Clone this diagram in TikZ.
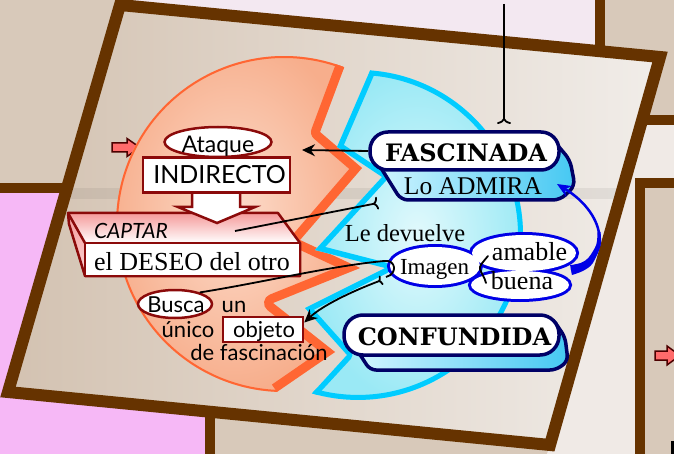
\documentclass[tikz,border=0pt]{standalone}
\usepackage{fontspec}
\setmainfont{Liberation Serif}
\newfontfamily\gill{Lato}
\newfontfamily\friz{DejaVu Serif}
\usetikzlibrary{arrows.meta,calc,shapes.geometric}
\definecolor{brn}{HTML}{663300}
\definecolor{dred}{HTML}{8B0A0A}
\definecolor{navy}{HTML}{000066}
\definecolor{oband}{HTML}{FF6633}
\definecolor{cband}{HTML}{00CCFF}
\definecolor{bline}{HTML}{0000E6}
\definecolor{pinkbg}{HTML}{F6B8F6}
\definecolor{beige}{HTML}{D8C9BA}
\definecolor{lav}{HTML}{F3E8F1}
\definecolor{lightr}{HTML}{F0EAE6}
\definecolor{quadL}{HTML}{D3C2B1}
\definecolor{quadR}{HTML}{F1EDE9}
\definecolor{peachO}{HTML}{F7AE8C}
\definecolor{peachI}{HTML}{FCDCCB}
\definecolor{cyanO}{HTML}{9AE9F5}
\definecolor{cyanI}{HTML}{E2F9FC}
\definecolor{pinkA}{HTML}{FF6B6B}
\definecolor{boxL}{HTML}{D2F5FF}
\definecolor{boxR}{HTML}{45C8F2}
\definecolor{captop}{HTML}{F59A9A}
\tikzset{
  brline/.style={draw=brn, line width=10pt},
  redborder/.style={draw=dred, line width=2.5pt, fill=white, inner sep=0pt},
  navyborder/.style={draw=navy, line width=3.5pt},
  conn/.style={draw=black, line width=1.8pt},
  sanstxt/.style={anchor=base, inner sep=0pt, font=\gill\fontsize{22}{24}\selectfont},
  seriftxt/.style={anchor=base, inner sep=0pt, font=\fontsize{26}{28}\selectfont},
  boldtxt/.style={anchor=base, inner sep=0pt, font=\friz\bfseries\fontsize{24}{26}\selectfont},
  cloudline/.style={draw=bline, line width=6pt},
  pinkarrow/.style={fill=pinkA, draw=black!70!red, line width=1.5pt, line join=miter}
}
\begin{document}
\begin{tikzpicture}[x=1pt,y=-1pt]
\useasboundingbox (0,0) rectangle (674,454);
% background regions
\fill[beige] (0,0) rectangle (674,454);
\fill[lav] (120,0) -- (600,0) -- (600,51) -- (120,5) -- cycle;
\fill[lightr] (642,120) -- (674,120) -- (674,183) -- (640,183) -- (640,454) -- (547,454) -- cycle;
\fill[pinkbg] (0,188) -- (67,188) -- (8,392) -- (210,412) -- (210,454) -- (0,454) -- cycle;
% main panel
\shade[left color=quadL, right color=quadR] (120,5) -- (660,57) -- (550,445) -- (8,392) -- cycle;
\begin{scope}
\clip (120,5) -- (660,57) -- (550,445) -- (8,392) -- cycle;
\fill[black, opacity=0.06] (0,188) rectangle (674,199);
\end{scope}
\draw[brline] (0,188) -- (67,188);
\draw[brline] (600,0) -- (600,51);
\draw[brline] (210,412) -- (210,454);
\draw[brline] (642,120) -- (674,120);
\draw[brline, line join=miter] (640,454) -- (640,183) -- (674,183);
\draw[draw=brn, line width=12pt, line join=miter] (120,5) -- (660,57) -- (550,445) -- (8,392) -- cycle;
% small pink arrows
\draw[pinkarrow] (112,143) -- (127,143) -- (127,138.5) -- (140,147.5) -- (127,156.5) -- (127,152) -- (112,152) -- cycle;
\draw[pinkarrow] (655,351) -- (667,351) -- (667,346) -- (680,355.5) -- (667,365) -- (667,360) -- (655,360) -- cycle;
\fill[black] (671,441) rectangle (674,454);
% orange sector
\shade[inner color=peachI, outer color=peachO] (344.2,67.2) arc[start angle=-69, end angle=-267.6, radius=168] -- (335,352) -- (273,303) -- (360,268) -- (300,240) -- (362,168) -- (320,132) -- cycle;
\begin{scope}
\clip (344.2,67.2) arc[start angle=-69, end angle=-267.6, radius=168] -- (335,352) -- (273,303) -- (360,268) -- (300,240) -- (362,168) -- (320,132) -- cycle;
\draw[oband, line width=18pt, line join=round] (344.2,67.2) -- (320,132) -- (362,168) -- (300,240) -- (360,268) -- (273,303) -- (335,352) -- (277,392);
\draw[oband, line width=4pt] (344.2,67.2) arc[start angle=-69, end angle=-267.6, radius=168];
\end{scope}
% blue sector
\shade[inner color=cyanI, outer color=cyanO] (370.1,70.4) arc[start angle=-85.8, end angle=106.2, radius=165] -- (347,355) -- (305,308) -- (385,268) -- (315,250) -- (382,177) -- (337,147) -- cycle;
\begin{scope}
\clip (370.1,70.4) arc[start angle=-85.8, end angle=106.2, radius=165] -- (347,355) -- (305,308) -- (385,268) -- (315,250) -- (382,177) -- (337,147) -- cycle;
\draw[cband, line width=11pt, line join=round] (312,393) -- (347,355) -- (305,308) -- (385,268) -- (315,250) -- (382,177) -- (337,147) -- (370.1,70.4);
\draw[cband, line width=10pt] (370.1,70.4) arc[start angle=-85.8, end angle=106.2, radius=165];
\end{scope}
% CAPTAR box
\shade[top color=captop, bottom color=white] (68,213) -- (278,213) -- (300,243) -- (85,243) -- cycle;
\shade[top color=captop, bottom color=white!60!captop] (68,213) -- (85,243) -- (85,276) -- (69,224) -- cycle;
\draw[dred, line width=2.5pt, line join=round] (68,213) -- (278,213) -- (300,243) -- (300,276) -- (85,276) -- (69,224) -- cycle;
\draw[dred, line width=2.5pt] (68,213) -- (85,243);
\node[redborder, minimum width=215pt, minimum height=33pt] (deseo) at (192.5,259.5) {};
% block arrow
\draw[redborder, line join=miter] (192,188) -- (192,207) -- (178,207) -- (217,223) -- (255,207) -- (240,207) -- (240,188);
% Ataque / INDIRECTO
\node[redborder, ellipse, minimum width=107pt, minimum height=30pt] (ataque) at (218,142) {};
\node[redborder, minimum width=147pt, minimum height=35pt] (indirecto) at (216.5,175) {};
% Busca / objeto
\node[redborder, ellipse, minimum width=74pt, minimum height=28pt] (busca) at (175,304) {};
\node[redborder, minimum width=80pt, minimum height=25pt] (objeto) at (263,329.5) {};
% FASCINADA
\draw[navyborder, left color=boxL, right color=boxR, rounded corners=7pt] (376,160) -- (401,200) -- (560,200) -- (575,186) -- (570,160) -- (548,134) -- cycle;
\node[navyborder, fill=white, rounded corners=18pt, minimum width=189pt, minimum height=38pt] (fasc) at (464.5,151) {};
% CONFUNDIDA
\draw[navyborder, left color=boxL, right color=boxR, rounded corners=6pt] (357,350) -- (370,370) -- (556,370) -- (568,361) -- (565,337) -- (552,318) -- cycle;
\node[navyborder, fill=white, rounded corners=19pt, minimum width=215pt, minimum height=40pt] (conf) at (451.5,335) {};
% cloud
\draw[cloudline] (435,266) ellipse [x radius=45, y radius=19];
\draw[cloudline] (524,253) ellipse [x radius=52, y radius=18];
\draw[cloudline] (520,285) ellipse [x radius=49, y radius=14];
\fill[white] (435,266) ellipse [x radius=45, y radius=19];
\fill[white] (524,253) ellipse [x radius=52, y radius=18];
\fill[white] (520,285) ellipse [x radius=49, y radius=14];
% texts
\node[sanstxt, font=\gill\fontsize{23}{25}\selectfont] (tAtaque) at (218,153) {Ataque};
\node[sanstxt, font=\gill\fontsize{25}{27}\selectfont] (tInd) at (219.5,184) {INDIRECTO};
\node[sanstxt, font=\gill\itshape\fontsize{21}{23}\selectfont] (tCaptar) at (131,239) {CAPTAR};
\node[seriftxt] (tDeseo) at (192,270) {el DESEO del otro};
\node[sanstxt] (tBusca) at (176,312) {Busca};
\node[sanstxt] (tUn) at (234,312) {un};
\node[sanstxt] (tUnico) at (188,337) {único};
\node[sanstxt] (tObjeto) at (264,337) {objeto};
\node[sanstxt] (tDeFasc) at (259,360) {de fascinación};
\node[boldtxt] (tFasc) at (466,162) {FASCINADA};
\node[seriftxt, font=\fontsize{25.5}{27}\selectfont] (tAdmira) at (473,195) {Lo ADMIRA};
\node[seriftxt, font=\fontsize{24.5}{26}\selectfont] (tLe) at (405,242) {Le devuelve};
\node[seriftxt, font=\fontsize{23}{25}\selectfont] (tImg) at (434.5,274) {Imagen};
\node[seriftxt] (tAmable) at (529.5,260) {amable};
\node[seriftxt] (tBuena) at (522,289) {buena};
\node[boldtxt] (tConf) at (454.5,345) {CONFUNDIDA};
% brace
\draw[line width=1.8pt, line cap=round, line join=round] (488,256) .. controls (483,262) and (479,266) .. (480,269) .. controls (481,273) and (485,278) .. (486,283);
% blue arrow
\coordinate (bstart) at (571,270);
\coordinate (bend) at (557,184);
\fill[bline] plot[smooth] coordinates {(571.9,275) (582.8,271) (592.4,263.7) (600.6,245.5) (600.5,232)} -- plot[smooth] coordinates {(597.5,232) (596.2,244.9) (588.2,258.1) (580.5,263) (570.1,265.2)} -- cycle;
\draw[bline, line width=2.5pt, -{Stealth[length=14pt,width=12pt]}] (bstart) .. controls (612,262) and (608,215) .. (bend);
% black connectors
\coordinate (topstart) at (504,4);
\coordinate (topend) at (504,124);
\draw[conn, -{To[reversed,length=6pt,width=14pt]}] (topstart) -- (topend);
\coordinate (ataquetip) at (302,150);
\draw[conn, -{Stealth[length=13pt,width=12pt]}] (fasc.west) -- (ataquetip);
\coordinate (captarpt) at (235,231);
\coordinate (bluept) at (378,203);
\draw[conn, -{To[reversed,length=5pt,width=13pt]}] (captarpt) -- (bluept);
\draw[conn] (busca.25) .. controls (260,283) and (330,266) .. (384,261) .. controls (396,259) and (398,274) .. (386,277);
\coordinate (imgpt) at (382,280);
\draw[conn, {To[reversed,length=4pt,width=10pt]}-{Stealth[length=13pt,width=12pt]}] (imgpt) .. controls (350,292) and (322,306) .. ($(objeto.east)+(0,-7)$);
\end{tikzpicture}
\end{document}
